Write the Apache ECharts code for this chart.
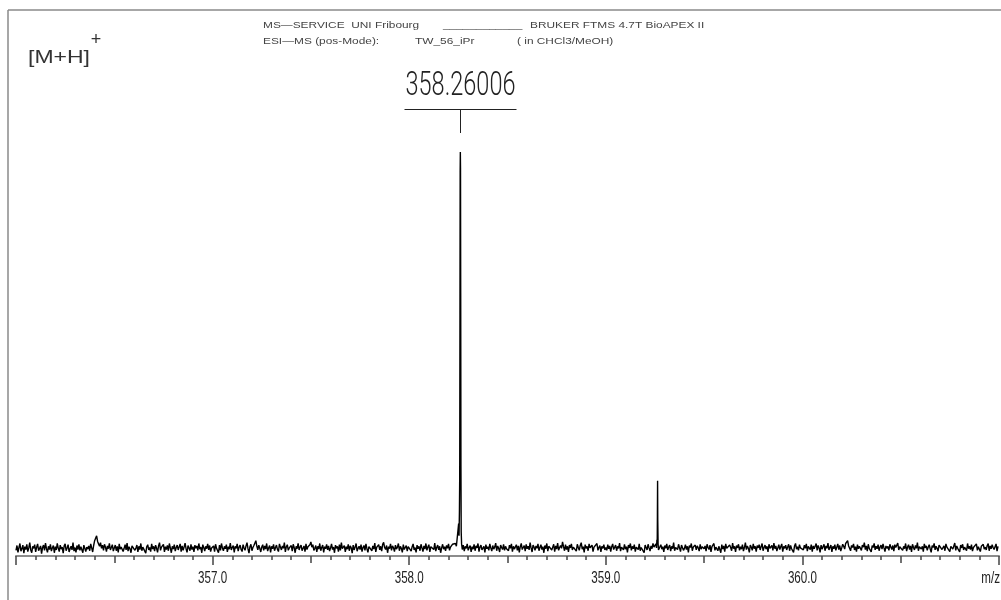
<!DOCTYPE html>
<html>
<head>
<meta charset="utf-8">
<title>ESI-MS TW_56_iPr</title>
<script src="https://cdn.jsdelivr.net/npm/echarts@6/dist/echarts.min.js"></script>
<style>
  html, body { margin: 0; padding: 0; background: #fff; }
  #chart { width: 1001px; height: 600px; }
</style>
</head>
<body>
<div id="chart"></div>
<script>
// ---- spectrum data (m/z, intensity in arbitrary units, [M+H]+ = 1000) ----
const axisTicks = [357, 358, 359, 360];
const tickLabels = ['357.0', '358.0', '359.0', '360.0'];
const axisUnit = 'm/z';
const peakLabelMz = 358.26006;
const peakLabelText = '358.26006';

// baseline noise, one value per 0.005 m/z, in half-unit blocks
const noise3560 = [
  14, 26, 9, 21, 31, 12, 18, 27, 7, 23, 16, 29, 11, 20, 33, 15, 8, 24, 19, 28,
  10, 22, 30, 13, 17, 25, 6, 21, 27, 14, 32, 18, 9, 24, 16, 29, 12, 20, 26, 8,
  23, 15, 31, 19, 11, 27, 17, 22, 7, 25, 30, 13, 20, 28, 10, 18, 24, 15, 33, 12,
  21, 9, 26, 16, 29, 14, 23, 19, 8, 27, 31, 11, 22, 17, 25, 13, 30, 20, 10, 26,
  38, 44, 50, 36, 30, 24, 33, 19, 27, 14, 29, 22, 11, 25, 18, 31, 15, 21, 28, 12
];
const noise3565 = [
  20, 27, 13, 24, 9, 30, 17, 22, 26, 11, 19, 28, 15, 32, 12, 23, 18, 8, 25, 21,
  29, 14, 20, 27, 10, 24, 16, 31, 13, 22, 19, 26, 7, 23, 28, 15, 21, 11, 30, 17,
  24, 12, 27, 19, 9, 25, 33, 14, 22, 18, 29, 10, 23, 16, 26, 13, 31, 20, 8, 24,
  17, 28, 12, 21, 27, 15, 19, 30, 11, 25, 14, 22, 32, 18, 9, 26, 20, 13, 29, 16,
  23, 10, 27, 19, 25, 14, 31, 17, 22, 8, 28, 21, 12, 24, 18, 30, 15, 26, 11, 20
];
const noise3570 = [
  16, 25, 11, 29, 19, 22, 8, 27, 14, 31, 20, 13, 24, 18, 28, 10, 23, 17, 32, 15,
  21, 26, 9, 24, 19, 30, 12, 22, 27, 16, 11, 28, 20, 14, 25, 33, 18, 7, 23, 29,
  13, 21, 26, 30, 38, 24, 15, 27, 19, 10, 22, 28, 14, 25, 17, 31, 12, 20, 26, 9,
  24, 18, 29, 13, 21, 27, 16, 11, 30, 22, 15, 25, 19, 33, 10, 23, 28, 14, 20, 17,
  26, 12, 29, 21, 8, 24, 18, 31, 15, 22, 27, 13, 19, 25, 11, 30, 16, 23, 20, 28
];
const noise3575 = [
  35, 22, 28, 14, 19, 26, 10, 24, 17, 31, 13, 21, 27, 9, 23, 18, 29, 15, 25, 12,
  20, 30, 16, 22, 8, 27, 19, 24, 11, 28, 14, 33, 18, 21, 26, 10, 23, 17, 29, 13,
  25, 20, 7, 27, 15, 22, 31, 12, 19, 24, 16, 28, 11, 21, 26, 14, 30, 18, 9, 23,
  20, 27, 13, 25, 17, 32, 10, 22, 19, 28, 15, 24, 12, 29, 34, 21, 16, 26, 8, 23,
  18, 30, 14, 25, 20, 11, 27, 17, 22, 31, 13, 24, 19, 9, 28, 16, 21, 26, 12, 23
];
const noise3580 = [
  19, 26, 12, 23, 30, 15, 21, 9, 27, 18, 24, 13, 29, 20, 11, 25, 17, 31, 14, 22,
  28, 10, 23, 19, 26, 16, 32, 12, 21, 27, 15, 24, 8, 20, 29, 17, 23, 13, 26, 19,
  30, 14, 22, 25, 29, 33, 27, 31, 24, 20, 22, 28, 25, 18, 16, 27, 12, 24, 19, 30,
  14, 21, 26, 10, 23, 17, 29, 13, 25, 20, 31, 11, 22, 27, 15, 19, 24, 9, 28, 18,
  23, 14, 30, 20, 12, 26, 17, 22, 32, 13, 25, 19, 10, 27, 21, 16, 29, 14, 24, 18
];
const noise3585 = [
  22, 13, 27, 19, 30, 11, 24, 17, 21, 28, 14, 25, 9, 23, 31, 16, 20, 26, 12, 29,
  18, 24, 15, 33, 20, 10, 27, 22, 14, 25, 19, 30, 13, 21, 28, 16, 23, 8, 26, 18,
  31, 12, 24, 20, 27, 15, 22, 29, 11, 25, 17, 32, 14, 21, 26, 19, 35, 23, 13, 28,
  16, 24, 10, 27, 20, 30, 15, 22, 18, 25, 12, 29, 21, 14, 26, 33, 17, 23, 9, 28,
  19, 24, 13, 30, 20, 16, 27, 11, 22, 25, 18, 31, 14, 21, 26, 10, 24, 19, 28, 15
];
const noise3590 = [
  21, 14, 28, 18, 25, 11, 23, 30, 16, 20, 27, 13, 24, 19, 32, 12, 22, 26, 15, 29,
  17, 23, 9, 27, 20, 31, 14, 24, 18, 28, 11, 22, 26, 16, 30, 13, 21, 25, 19, 8,
  27, 23, 15, 29, 20, 12, 25, 18, 31, 22, 26, 30, 20, 24, 21, 14, 28, 17, 23, 10,
  26, 19, 30, 15, 22, 27, 12, 24, 18, 33, 13, 21, 25, 16, 29, 20, 11, 27, 23, 14,
  19, 28, 16, 24, 9, 26, 21, 31, 13, 22, 18, 27, 15, 25, 20, 12, 29, 17, 23, 26
];
const noise3595 = [
  18, 25, 12, 29, 21, 16, 27, 10, 23, 19, 31, 14, 22, 26, 13, 24, 20, 8, 28, 17,
  25, 11, 30, 19, 22, 15, 27, 21, 13, 32, 18, 24, 10, 26, 20, 29, 14, 23, 17, 28,
  12, 21, 33, 16, 25, 19, 9, 27, 22, 14, 30, 18, 24, 11, 26, 20, 28, 15, 23, 31,
  13, 21, 27, 17, 24, 10, 29, 19, 22, 26, 14, 32, 18, 25, 12, 20, 28, 16, 23, 30,
  11, 24, 19, 27, 15, 22, 29, 13, 26, 18, 21, 9, 25, 31, 17, 23, 14, 28, 20, 24
];
const noise3600 = [
  23, 15, 27, 19, 30, 12, 24, 21, 16, 28, 11, 25, 18, 22, 31, 14, 26, 20, 9, 27,
  17, 23, 29, 13, 25, 19, 32, 15, 21, 27, 10, 24, 18, 28, 14, 22, 30, 16, 26, 12,
  20, 29, 24, 17, 31, 27, 38, 25, 19, 13, 26, 21, 30, 15, 23, 11, 28, 18, 24, 20,
  14, 27, 22, 33, 16, 25, 12, 29, 19, 23, 10, 26, 21, 31, 15, 24, 18, 28, 13, 22,
  27, 17, 30, 20, 11, 25, 19, 24, 14, 29, 22, 16, 26, 12, 28, 21, 18, 32, 15, 23
];
const noise3605 = [
  20, 27, 14, 24, 18, 31, 12, 22, 28, 16, 25, 10, 29, 21, 15, 26, 19, 33, 13, 23,
  27, 17, 24, 11, 30, 20, 25, 14, 22, 28, 18, 9, 26, 21, 31, 15, 24, 19, 12, 27,
  23, 29, 16, 20, 25, 13, 30, 22, 18, 26, 11, 24, 28, 17, 21, 32, 14, 25, 19, 23,
  10, 27, 20, 29, 15, 22, 26, 13, 31, 18, 24, 16, 28, 12, 21, 25, 19, 30, 14, 23,
  27, 11, 24, 20, 29, 17, 22, 15, 26, 31, 13, 25, 18, 28, 21, 16, 23, 30, 12, 24
];

// [M+H]+ monoisotopic peak profile
const mainPeak = [
  [358.2500, 25], [358.2515, 80], [358.2535, 50], [358.2555, 110],
  [358.2570, 200], [358.2582, 600], [358.2592, 950], [358.2601, 1000],
  [358.2610, 960], [358.2620, 650], [358.2632, 220], [358.2645, 60],
  [358.2665, 30]
];
// 13C isotope peak profile
const isotopePeak = [
  [359.2580, 20], [359.2600, 40], [359.2615, 30], [359.2625, 100],
  [359.2634, 186], [359.2643, 90], [359.2660, 30], [359.2680, 15]
];

const noiseBlocks = [
  [356.0, noise3560], [356.5, noise3565], [357.0, noise3570], [357.5, noise3575],
  [358.0, noise3580], [358.5, noise3585], [359.0, noise3590], [359.5, noise3595],
  [360.0, noise3600], [360.5, noise3605]
];
const peakWindows = [[358.248, 358.268], [359.256, 359.270]];

function buildSpectrum() {
  const pts = [];
  noiseBlocks.forEach(([base, arr]) => {
    arr.forEach((v, i) => {
      const mz = +(base + i * 0.005).toFixed(3);
      if (!peakWindows.some(([a, b]) => mz >= a && mz <= b)) pts.push([mz, v]);
    });
  });
  mainPeak.forEach(p => pts.push(p));
  isotopePeak.forEach(p => pts.push(p));
  pts.sort((a, b) => a[0] - b[0]);
  return pts;
}

const chart = echarts.init(document.getElementById('chart'), null, { renderer: 'canvas' });

const tickColor = '#444';
// three bottom axes sharing one scale: 0.1, 0.5 and 1.0 tick rows
function tickAxis(interval, len, showLine) {
  return {
    type: 'value', min: 356, max: 361, interval: interval,
    position: 'bottom', offset: 0,
    axisLine: showLine ? { show: true, lineStyle: { color: '#8c8c8c', width: 2 } } : { show: false },
    axisTick: { show: true, length: len, lineStyle: { color: tickColor, width: 1.5 } },
    axisLabel: { show: false },
    splitLine: { show: false }
  };
}

chart.setOption({
  animation: false,
  backgroundColor: '#fff',
  grid: { left: 16, right: 2, top: 152, bottom: 44 },
  xAxis: [tickAxis(1, 9, true), tickAxis(0.5, 7, false), tickAxis(0.1, 4, false)],
  yAxis: { type: 'value', min: 0, max: 1000, show: false },
  series: [{
    type: 'line',
    xAxisIndex: 0,
    data: buildSpectrum(),
    showSymbol: false,
    symbol: 'none',
    silent: true,
    lineStyle: { color: '#000', width: 1.4 }
  }]
});

// ---- text and annotation overlay ----
const measureCtx = document.createElement('canvas').getContext('2d');
function textWidth(text, font) {
  measureCtx.font = font;
  return measureCtx.measureText(text).width;
}

const px = v => chart.convertToPixel({ xAxisIndex: 0 }, v);
const gfx = [];

// frame
gfx.push({ type: 'line', shape: { x1: 8, y1: 10, x2: 8, y2: 600 }, style: { stroke: '#8a8a8a', lineWidth: 1.5 }, silent: true });
gfx.push({ type: 'line', shape: { x1: 8, y1: 10, x2: 1001, y2: 10 }, style: { stroke: '#8a8a8a', lineWidth: 1.5 }, silent: true });

// header
const headFont = '9.5px "Liberation Sans", Arial, sans-serif';
const headScale = 1.25;
const header = [
  ['MS\u2014SERVICE  UNI Fribourg', 263, 25],
  ['____________', 443, 25],
  ['BRUKER FTMS 4.7T BioAPEX II', 530, 25],
  ['ESI\u2014MS (pos-Mode):', 263, 41],
  ['TW_56_iPr', 415, 41],
  ['( in CHCl3/MeOH)', 517, 41]
];
header.forEach(([t, x, y]) => {
  gfx.push({
    type: 'text', x: x, y: y, scaleX: headScale, silent: true,
    style: { text: t, font: headFont, fill: '#444', align: 'left', verticalAlign: 'middle' }
  });
});

// ion label
const ionFont = '18px "Liberation Sans", Arial, sans-serif';
gfx.push({
  type: 'text', x: 28, y: 58, scaleX: 62 / textWidth('[M+H]', ionFont), silent: true,
  style: { text: '[M+H]', font: ionFont, fill: '#333', align: 'left', verticalAlign: 'middle' }
});
gfx.push({
  type: 'text', x: 96, y: 40, silent: true,
  style: { text: '+', font: ionFont, fill: '#333', align: 'center', verticalAlign: 'middle' }
});

// peak annotation
const pkX = Math.round(px(peakLabelMz)) + 0.5;
const pkFont = '300 34px Roboto, "Liberation Sans", sans-serif';
gfx.push({
  type: 'text', x: pkX, y: 86, scaleX: 110 / textWidth(peakLabelText, pkFont), silent: true,
  style: { text: peakLabelText, font: pkFont, fill: '#222', align: 'center', verticalAlign: 'middle' }
});
gfx.push({ type: 'line', shape: { x1: pkX - 56, y1: 109.5, x2: pkX + 56, y2: 109.5 }, style: { stroke: '#222', lineWidth: 1 }, silent: true });
gfx.push({ type: 'line', shape: { x1: pkX, y1: 109.5, x2: pkX, y2: 133 }, style: { stroke: '#222', lineWidth: 1 }, silent: true });

// axis tick labels
const tickFont = '16px "Liberation Sans", Arial, sans-serif';
const tickScale = 29 / textWidth('357.0', tickFont);
axisTicks.forEach((v, i) => {
  gfx.push({
    type: 'text', x: px(v), y: 579, scaleX: tickScale, silent: true,
    style: { text: tickLabels[i], font: tickFont, fill: '#222', align: 'center', verticalAlign: 'middle' }
  });
});
gfx.push({
  type: 'text', x: 1000, y: 579, scaleX: tickScale, silent: true,
  style: { text: axisUnit, font: tickFont, fill: '#222', align: 'right', verticalAlign: 'middle' }
});

chart.setOption({ graphic: gfx });
</script>
</body>
</html>
